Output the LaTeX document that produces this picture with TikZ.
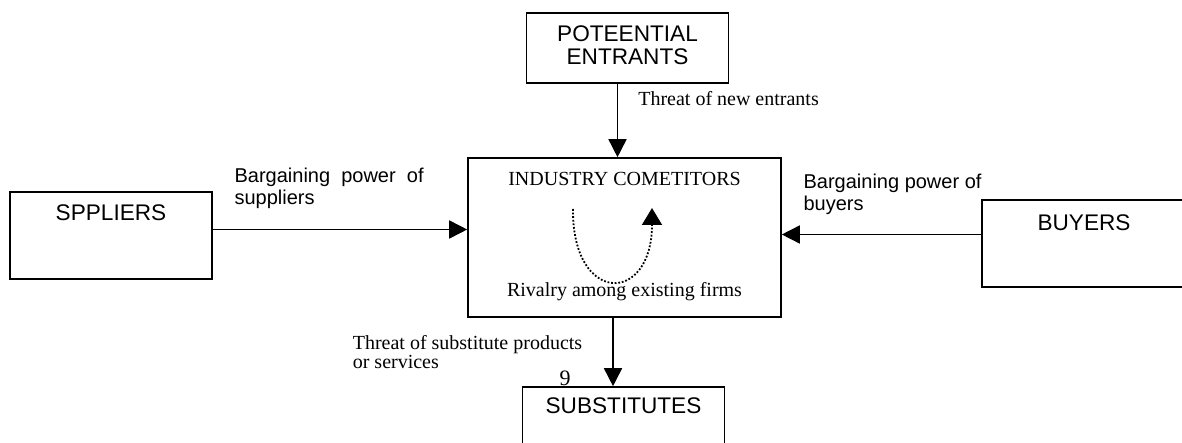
\documentclass[tikz,border=0pt]{standalone}
\usepackage{fontspec}
\setmainfont{Liberation Serif}
\setsansfont{Liberation Sans}
\usetikzlibrary{positioning,arrows.meta}
\begin{document}
\begin{tikzpicture}[x=0.5pt, y=-0.5pt, line width=0.8pt,
  force/.style = {draw, rectangle, inner sep=0pt, minimum width=101pt, minimum height=43.5pt},
  title/.style = {font=\sffamily\fontsize{11.3}{11.5}\selectfont, inner sep=0pt, align=center},
  note/.style = {font=\sffamily\fontsize{10}{11}\selectfont, inner sep=0pt, align=left},
  remark/.style = {font=\fontsize{10}{9.8}\selectfont, inner sep=0pt, align=left},
  push/.style = {-{Triangle[length=9pt, width=9pt]}}]
  \useasboundingbox (0,0) rectangle (1182,443);
  \clip (0,0) rectangle (1182,443);
  \node[force, title, minimum height=35pt, text depth=3pt] (pot) at (627.5,48) {POTEENTIAL\\ENTRANTS};
  \node[force] (sup) at (111,235.5) {};
  \node[force, minimum width=156.5pt, minimum height=79.5pt] (ind) at (624.5,237.5) {};
  \node[force, minimum width=102pt] (buy) at (1084,243.5) {};
  \node[force, minimum height=41.5pt] (sub) at (623.5,428.5) {};
  \node[title, below=6.5pt of sup.north] (suptext) {SPPLIERS};
  \node[title, below=7.5pt of buy.north] (buytext) {BUYERS};
  \node[title, below=5.5pt of sub.north] (subtext) {SUBSTITUTES};
  \node[remark, below=7pt of ind.north] (indtext) {INDUSTRY COMETITORS};
  \node[remark, above=8pt of ind.south] (rivtext) {Rivalry among existing firms};
  \node[font=\fontsize{11}{11}\selectfont, inner sep=0pt] (nine) at (565,378) {9};
  \draw[push] ([xshift=-5pt]pot.south) -- node[remark, right=10pt, pos=0.2] {Threat of new entrants} ([xshift=-5pt]pot.south |- ind.north);
  \draw[push] ([yshift=3pt]sup.east) -- node[note, pos=0, anchor=north west, xshift=10.5pt, yshift=31pt] {Bargaining~ power~ of\\suppliers} ([yshift=3pt]sup.east -| ind.west);
  \draw[push] ([yshift=4.5pt]buy.west) -- node[note, pos=1, anchor=north west, xshift=10.5pt, yshift=30.5pt] {Bargaining power of\\buyers} ([yshift=4.5pt]buy.west -| ind.east);
  \draw[push] ([xshift=-5.75pt]ind.south) -- node[remark, left=15pt, midway] {Threat of substitute products\\or services} ([xshift=-5.75pt]ind.south |- sub.north);
  \draw[line width=0.9pt, dash pattern=on 0.9pt off 0.9pt, -{Triangle[length=8.5pt, width=10pt]}] (573,209) .. controls (572,305) and (652,305) .. (652,208);
\end{tikzpicture}
\end{document}
